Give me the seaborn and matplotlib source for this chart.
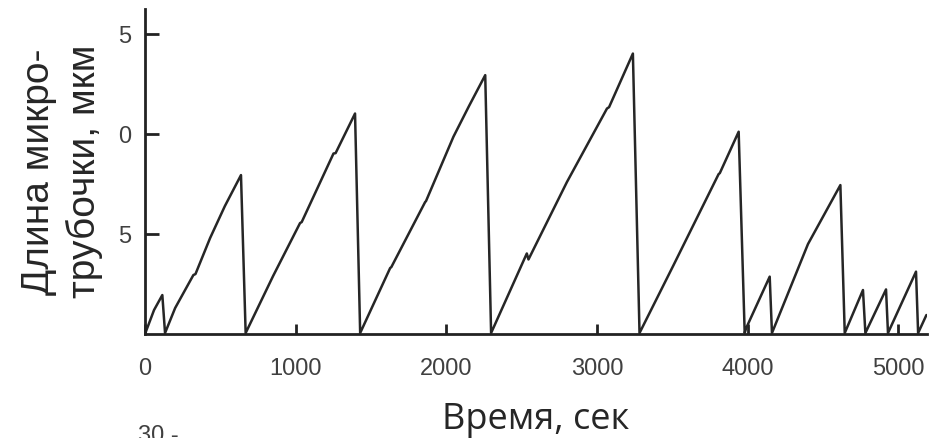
import matplotlib
matplotlib.use('Agg')

import seaborn as sns
import matplotlib.pyplot as plt
import pandas as pd

# --- данные: точки излома кривой (время, сек / длина, мкм) ---
time_s = [0, 60, 115, 133, 200, 321, 335, 432, 530, 637, 668, 850, 1029, 1040,
          1251, 1265, 1394, 1428, 1627, 1635, 1859, 1865, 2047, 2150, 2258,
          2297, 2534, 2545, 2800, 3066, 3080, 3238, 3282, 3508, 3807, 3815,
          3940, 3980, 3990, 4146, 4161, 4400, 4615, 4644, 4765, 4781, 4918,
          4931, 5117, 5131, 5186]
length_um = [0.0, 1.2, 1.95, 0.05, 1.3, 2.95, 3.0, 4.8, 6.4, 7.95, 0.05, 2.9,
             5.55, 5.6, 9.03, 9.05, 11.03, 0.05, 3.3, 3.35, 6.6, 6.65, 9.87,
             11.4, 12.95, 0.05, 4.03, 3.73, 7.6, 11.28, 11.35, 14.03, 0.05,
             3.45, 8.0, 8.05, 10.12, 0.05, 0.3, 2.87, 0.05, 4.5, 7.45, 0.05,
             2.2, 0.05, 2.23, 0.05, 3.12, 0.05, 0.95]

x_ticks = [0, 1000, 2000, 3000, 4000, 5000]
y_ticks = [15, 10, 5]
y_tick_labels = ["5", "0", "5"]

df = pd.DataFrame({"t": time_s, "L": length_um})

sns.set_style("white")
plt.rcParams['font.family'] = ['Liberation Sans', 'DejaVu Sans']

fig = plt.figure(figsize=(9.44, 4.38), dpi=100)
ax = fig.add_axes([0.1536, 0.2374, 0.982 - 0.1536, 0.979 - 0.2374])

sns.lineplot(data=df, x="t", y="L", sort=False, estimator=None,
             color="#262626", linewidth=1.8, ax=ax)

ax.set_xlim(0, 5190)
ax.set_ylim(0, 16.25)
ax.set_xticks(x_ticks)
ax.set_xticklabels([str(v) for v in x_ticks])
ax.set_yticks(y_ticks)
ax.set_yticklabels(y_tick_labels)

for side in ['top', 'right']:
    ax.spines[side].set_visible(False)
for side in ['left', 'bottom']:
    ax.spines[side].set_linewidth(2)
    ax.spines[side].set_color("#222222")

ax.tick_params(bottom=True, left=True, direction='in', length=7, width=2,
               color="#222222", labelsize=17, labelcolor="#404040")
ax.tick_params(axis='x', pad=17)
ax.tick_params(axis='y', length=10, pad=10)

ax.set_xlabel("Время, сек", fontsize=26, family=['Open Sans', 'DejaVu Sans'],
              labelpad=16)
ax.set_ylabel("Длина микро-\nтрубочки, мкм", fontsize=28, labelpad=11,
              linespacing=1.3)

# обрывок подписи следующего графика внизу
fig.text(0.146, 0.0297, "30 -", fontsize=17, color="#404040", va='top')

plt.savefig("out.png", dpi=100)
plt.close()
